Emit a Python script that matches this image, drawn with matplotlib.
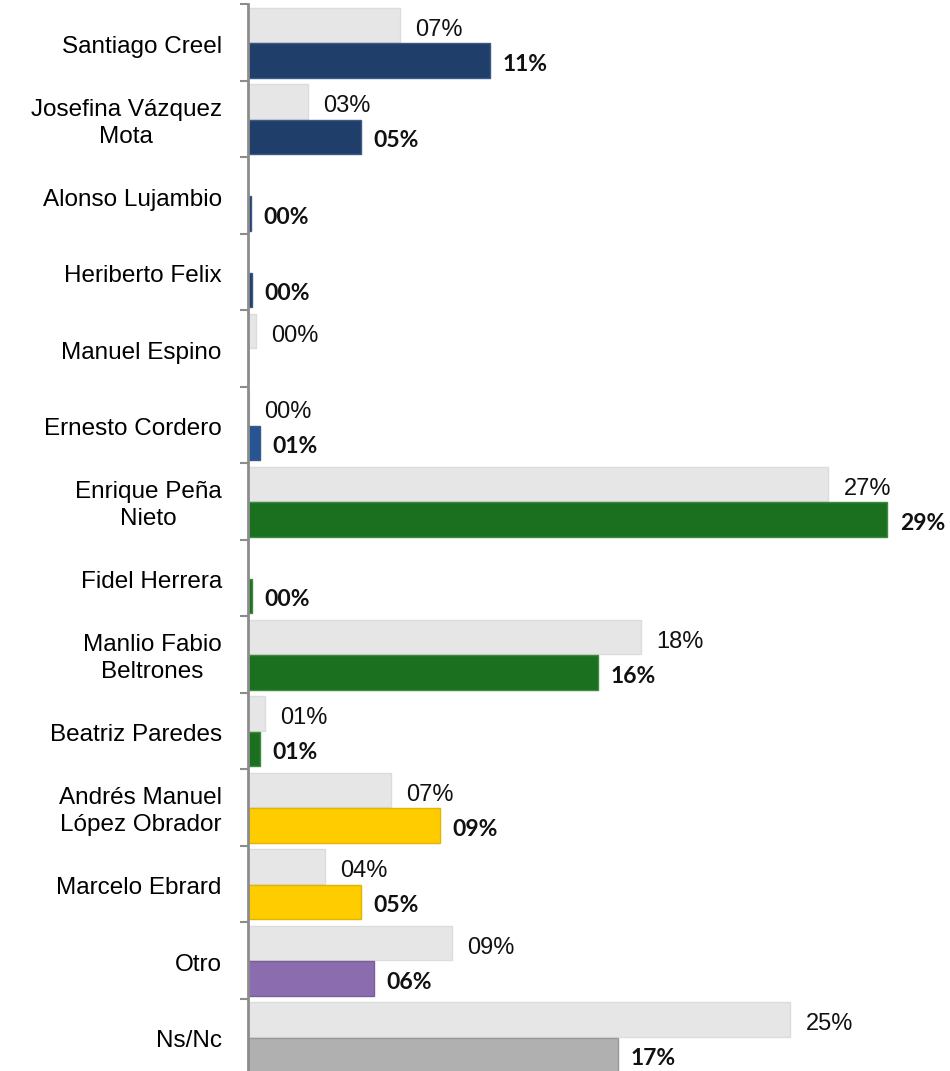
import matplotlib.pyplot as plt
import numpy as np

# candidatos y porcentajes (medición anterior en gris, actual en color)
candidatos = ["Santiago Creel", "Josefina Vázquez\nMota", "Alonso Lujambio",
              "Heriberto Felix", "Manuel Espino", "Ernesto Cordero",
              "Enrique Peña\nNieto", "Fidel Herrera", "Manlio Fabio\nBeltrones",
              "Beatriz Paredes", "Andrés Manuel\nLópez Obrador", "Marcelo Ebrard",
              "Otro", "Ns/Nc"]
anterior = [6.97, 2.75, 0.0, 0.0, 0.37, 0.04, 26.6, 0.0, 18.0,
            0.78, 6.56, 3.53, 9.36, 24.86]
actual = [11.1, 5.18, 0.14, 0.18, 0.0, 0.55, 29.3, 0.18, 16.05,
          0.55, 8.8, 5.18, 5.78, 16.97]
colores = ["#1f3e69", "#1f3e69", "#1f3e69", "#1f3e69", "#1f3e69", "#275594",
           "#1a701e", "#1a701e", "#1a701e", "#1a701e",
           "#ffcc00", "#ffcc00", "#8b6cae", "#b0b0b0"]
bordes = ["#3c5a85", "#3c5a85", "#3c5a85", "#3c5a85", "#3c5a85", "#3c5a85",
          "#3f8a42", "#3f8a42", "#3f8a42", "#3f8a42",
          "#e0b400", "#e0b400", "#7a5e9a", "#999999"]

fig = plt.figure(figsize=(9.5, 10.71), dpi=100)
ax = fig.add_axes([0.261, -0.0042, 0.735, 1.0])

y = np.arange(len(candidatos))
alto = 0.445
ax.barh(y - 0.232, anterior, height=alto, color="#e6e6e6",
        edgecolor="#dcdcdc", linewidth=1)
ax.barh(y + 0.232, actual, height=alto, color=colores,
        edgecolor=bordes, linewidth=1)

for i in range(len(candidatos)):
    if anterior[i] > 0 or actual[i] == 0 or i == 5:
        ax.annotate("%02d%%" % round(anterior[i]), (anterior[i], i - 0.17),
                    xytext=(11, 0), textcoords="offset points",
                    ha="left", va="center", fontsize=17,
                    family="Liberation Sans", color="#111111")
    if actual[i] > 0:
        ax.annotate("%02d%%" % round(actual[i]), (actual[i], i + 0.28),
                    xytext=(9, 0), textcoords="offset points",
                    ha="left", va="center", fontsize=16.5,
                    family="Lato", fontweight="bold", color="#111111")

ax.set_xlim(0, 32)
ax.set_ylim(len(candidatos) - 0.5, -0.5)

# eje vertical con marcas entre categorías
ax.set_yticks(np.arange(len(candidatos) + 1) - 0.5)
ax.set_yticklabels([])
ax.tick_params(axis="y", direction="out", length=6, width=1.5, color="#8c8c8c")
ax.set_xticks([])
for i, nombre in enumerate(candidatos):
    ax.text(-1.2, i + 0.05, nombre, ha="right", va="center", fontsize=17.5,
            family="Liberation Sans", linespacing=1.3, multialignment="center")

for lado in ["top", "right", "bottom"]:
    ax.spines[lado].set_visible(False)
ax.spines["left"].set_color("#8c8c8c")
ax.spines["left"].set_linewidth(2)

fig.savefig("out.png", dpi=100)
